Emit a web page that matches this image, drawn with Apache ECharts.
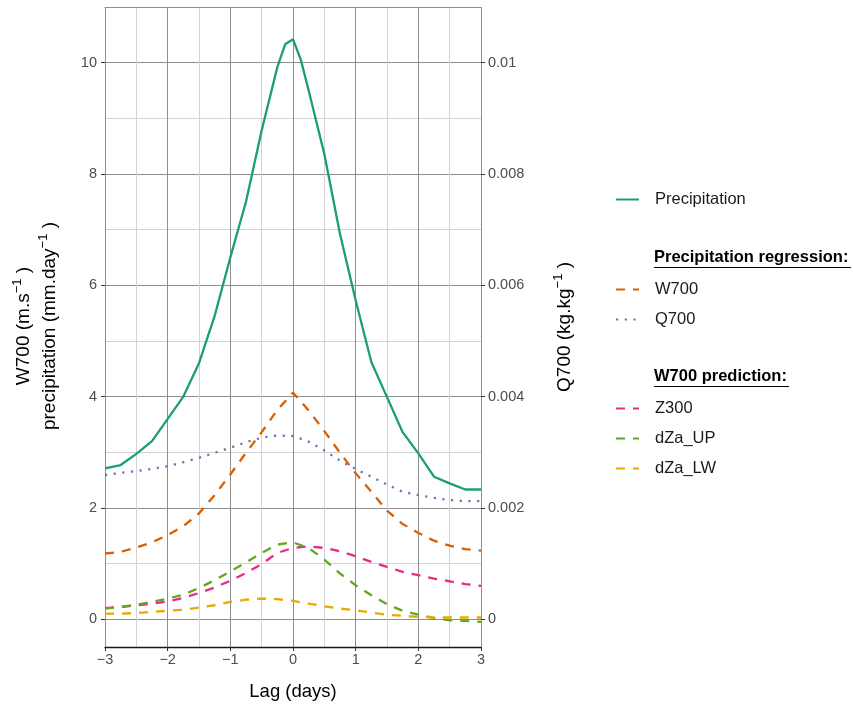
<!DOCTYPE html>
<html>
<head>
<meta charset="utf-8">
<script src="https://cdn.jsdelivr.net/npm/echarts@6/dist/echarts.min.js"></script>
<style>
html,body{margin:0;padding:0;background:#fff;}
#chart{width:853px;height:707px;}
</style>
</head>
<body>
<div id="chart"></div>
<script>
// ---- data ----
const lag = [-3,-2.75,-2.5,-2.25,-2,-1.75,-1.5,-1.25,-1,-0.75,-0.5,-0.25,0,0.25,0.5,0.75,1,1.25,1.5,1.75,2,2.25,2.5,2.75,3];
const lagPrecip = [-3,-2.75,-2.5,-2.25,-2,-1.75,-1.5,-1.25,-1,-0.75,-0.5,-0.25,-0.125,0,0.125,0.25,0.5,0.75,1,1.25,1.5,1.75,2,2.25,2.5,2.75,3];
const precipitation = [2.71,2.77,2.97,3.2,3.6,4.0,4.6,5.45,6.5,7.5,8.78,9.92,10.33,10.42,10.05,9.5,8.36,6.92,5.73,4.62,3.99,3.36,2.98,2.56,2.44,2.33,2.33];
const w700 = [1.18,1.21,1.29,1.38,1.51,1.67,1.90,2.23,2.60,2.99,3.36,3.76,4.07,3.75,3.38,2.99,2.62,2.29,1.95,1.71,1.55,1.41,1.32,1.26,1.23];
const q700 = [0.00259,0.00263,0.00266,0.00270,0.00275,0.00282,0.00290,0.00299,0.00308,0.00318,0.00326,0.00330,0.00329,0.00319,0.00303,0.00285,0.00270,0.00256,0.00242,0.00229,0.00223,0.00218,0.00214,0.00212,0.00212];
const z300 = [0.20,0.22,0.25,0.28,0.32,0.38,0.47,0.57,0.69,0.83,0.99,1.19,1.28,1.31,1.28,1.22,1.13,1.03,0.94,0.85,0.79,0.73,0.68,0.63,0.60];
const dzaUp = [0.19,0.22,0.26,0.31,0.37,0.44,0.56,0.70,0.86,1.02,1.19,1.34,1.38,1.28,1.07,0.82,0.61,0.43,0.27,0.15,0.08,0.02,-0.02,-0.03,-0.05];
const dzaLw = [0.10,0.10,0.11,0.13,0.15,0.17,0.21,0.25,0.31,0.35,0.37,0.36,0.33,0.28,0.23,0.19,0.16,0.12,0.08,0.06,0.04,0.03,0.03,0.03,0.03];
const xTicks = [-3,-2,-1,0,1,2,3];
const yTicksLeft = [0,2,4,6,8,10];
const yTicksRight = [0,0.002,0.004,0.006,0.008,0.01];

const pairs = (xs, ys) => xs.map((x, i) => [x, ys[i]]);

const FONT = '"Liberation Sans", Arial, Helvetica, sans-serif';
const MAJOR = '#8e8e8e';
const MINOR = '#d3d3d3';
const NONE = 'rgba(0,0,0,0)';
const DASH = [9, 8];
const DOT = [2.2, 6.5];
const LW = 2.3;

const chart = echarts.init(document.getElementById('chart'), null, {renderer: 'canvas'});

function mk(name, data, color, type, yIdx) {
  return {
    name: name, type: 'line', data: data, yAxisIndex: yIdx || 0,
    showSymbol: false, symbol: 'none',
    lineStyle: {color: color, width: LW, type: type, cap: 'butt'},
    itemStyle: {color: color},
    emphasis: {disabled: true},
    z: 3
  };
}

const legendCommon = {
  orient: 'vertical', left: 615, padding: 0, itemWidth: 23, itemHeight: 14, itemGap: 15.5,
  selectedMode: false,
  itemStyle: {opacity: 0},
  textStyle: {fontFamily: FONT, fontSize: 16.5, color: '#1a1a1a', padding: [0, 0, 0, 11]}
};

const hidden = {axisLine: {show: false, onZero: false}, axisTick: {show: false}, axisLabel: {show: false}};

const option = {
  animation: false,
  backgroundColor: '#ffffff',
  grid: {left: 105, right: 372, top: 7, bottom: 60, containLabel: false},
  xAxis: [{
    type: 'value', min: -3, max: 3, position: 'bottom',
    axisLine: {show: true, onZero: false, lineStyle: {color: '#1a1a1a', width: 1.3}},
    axisTick: {show: true, customValues: xTicks, length: 4, lineStyle: {color: '#333'}},
    axisLabel: {customValues: xTicks, color: '#4d4d4d', fontFamily: FONT, fontSize: 14.5, margin: 5,
      formatter: v => v < 0 ? '\u2212' + (-v) : String(v)},
    splitLine: {show: false}, z: 5
  }, {
    type: 'value', min: -3, max: 3, position: 'top',
    axisLine: {show: true, onZero: false, lineStyle: {color: MAJOR, width: 1}},
    axisTick: {show: false}, axisLabel: {show: false}, splitLine: {show: false}
  }, Object.assign({
    type: 'value', min: -3, max: 3, interval: 0.5, position: 'bottom',
    splitLine: {show: true, lineStyle: {color: [MAJOR, MINOR], width: 1}}
  }, hidden)],
  yAxis: [{
    type: 'value', min: -0.5, max: 11, position: 'left',
    axisLine: {show: false, onZero: false},
    axisTick: {show: true, customValues: yTicksLeft, length: 4, lineStyle: {color: '#333'}},
    axisLabel: {customValues: yTicksLeft, color: '#4d4d4d', fontFamily: FONT, fontSize: 14.5, margin: 8},
    splitLine: {show: false}
  }, {
    type: 'value', min: -0.0005, max: 0.011, position: 'right',
    axisLine: {show: false, onZero: false},
    axisTick: {show: true, customValues: yTicksRight, length: 4, lineStyle: {color: '#333'}},
    axisLabel: {customValues: yTicksRight, color: '#4d4d4d', fontFamily: FONT, fontSize: 14.5, margin: 7,
      formatter: v => String(parseFloat(Number(v).toFixed(4)))},
    splitLine: {show: false}
  }, Object.assign({
    type: 'value', min: -0.5, max: 11, interval: 0.5, position: 'left',
    splitLine: {show: true, lineStyle: {color: [NONE, MAJOR, NONE, MINOR], width: 1}}
  }, hidden)],
  legend: [
    Object.assign({}, legendCommon, {top: 191, data: ['Precipitation']}),
    Object.assign({}, legendCommon, {top: 281, itemGap: 13, data: ['W700', 'Q700']}),
    Object.assign({}, legendCommon, {top: 400, itemGap: 13, data: ['Z300', 'dZa_UP', 'dZa_LW']})
  ],
  graphic: [
    {type: 'text', x: 37, y: 326, rotation: Math.PI / 2,
      style: {text: '{a|W700 (m.s}{s|\u22121}{a| )}\n{a|precipitation (mm.day}{s|\u22121}{a| )}',
        align: 'center', verticalAlign: 'middle', fill: '#000',
        rich: {a: {fontFamily: FONT, fontSize: 19, lineHeight: 26, fill: '#000'},
               s: {fontFamily: FONT, fontSize: 13, lineHeight: 26, verticalAlign: 'top', padding: [0, 0, 8, 0], fill: '#000'}}}},
    {type: 'text', x: 565, y: 327, rotation: Math.PI / 2,
      style: {text: '{a|Q700 (kg.kg}{s|\u22121}{a| )}',
        align: 'center', verticalAlign: 'middle', fill: '#000',
        rich: {a: {fontFamily: FONT, fontSize: 19, lineHeight: 26, fill: '#000'},
               s: {fontFamily: FONT, fontSize: 13, lineHeight: 26, verticalAlign: 'top', padding: [0, 0, 8, 0], fill: '#000'}}}},
    {type: 'text', x: 293, y: 692,
      style: {text: 'Lag (days)', align: 'center', verticalAlign: 'middle', fill: '#000',
        font: '18.5px ' + FONT}},
    {type: 'text', x: 654, y: 257,
      style: {text: 'Precipitation regression:', align: 'left', verticalAlign: 'middle', fill: '#000',
        font: 'bold 16.5px ' + FONT}},
    {type: 'line', shape: {x1: 654, y1: 267.5, x2: 851, y2: 267.5}, style: {stroke: '#000', lineWidth: 1.2}},
    {type: 'text', x: 654, y: 376,
      style: {text: 'W700 prediction:', align: 'left', verticalAlign: 'middle', fill: '#000',
        font: 'bold 16.5px ' + FONT}},
    {type: 'line', shape: {x1: 654, y1: 386.5, x2: 789, y2: 386.5}, style: {stroke: '#000', lineWidth: 1.2}}
  ],
  series: [
    mk('Precipitation', pairs(lagPrecip, precipitation), '#1B9E77', 'solid'),
    mk('W700', pairs(lag, w700), '#D95F02', DASH),
    mk('Q700', pairs(lag, q700), '#7570B3', DOT, 1),
    mk('Z300', pairs(lag, z300), '#E7298A', DASH),
    mk('dZa_UP', pairs(lag, dzaUp), '#66A61E', DASH),
    mk('dZa_LW', pairs(lag, dzaLw), '#E6AB02', DASH)
  ]
};
chart.setOption(option);
</script>
</body>
</html>
